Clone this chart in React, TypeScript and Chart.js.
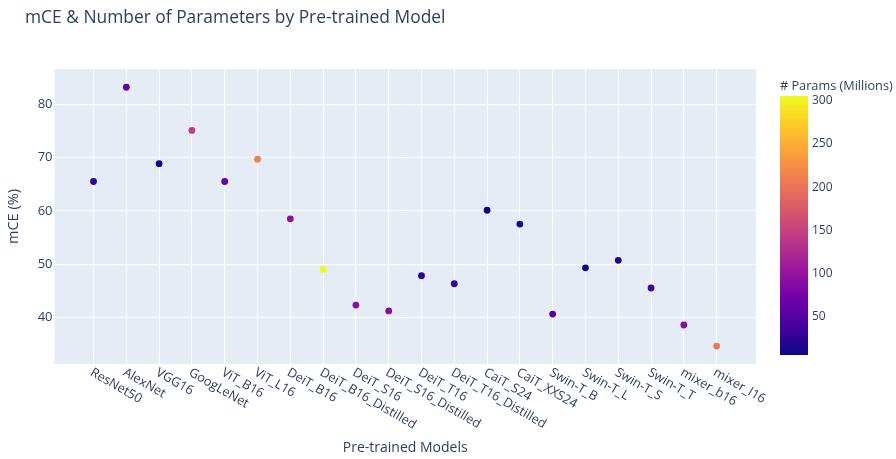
import React, { useEffect, useRef } from "react";
import { Chart, registerables } from "chart.js";

Chart.register(...registerables);

const models = [
  "ResNet50", "AlexNet", "VGG16", "GoogLeNet", "ViT_B16", "ViT_L16", "DeiT_B16",
  "DeiT_B16_Distilled", "DeiT_S16", "DeiT_S16_Distilled", "DeiT_T16", "DeiT_T16_Distilled",
  "CaiT_S24", "CaiT_XXS24", "Swin-T_B", "Swin-T_L", "Swin-T_S", "Swin-T_T", "mixer_b16", "mixer_l16",
];
const mce = [
  65.5, 83.2, 68.85, 75.1, 65.5, 69.7, 58.5,
  49.0, 42.3, 41.2, 47.8, 46.3,
  60.1, 57.5, 40.6, 49.3, 50.7, 45.5, 38.55, 34.6,
];
const paramsMillions = [
  25.6, 62, 7, 146, 66, 212, 93,
  305, 90, 91, 24, 26,
  6, 9, 50, 7, 14, 40, 90, 203,
];
const yTicks = [40, 50, 60, 70, 80];
const colorbarTicks = [50, 100, 150, 200, 250, 300];
const plasma = [
  "#0d0887", "#46039f", "#7201a8", "#9c179e", "#bd3786",
  "#d8576b", "#ed7953", "#fb9f3a", "#fdca26", "#f0f921",
];

const C_MIN = 5.7;
const C_MAX = 305.4;
const FONT = '"Open Sans", verdana, arial, sans-serif';
const TEXT = "#2a3f5f";

function hexToRgb(h: string) {
  return [parseInt(h.slice(1, 3), 16), parseInt(h.slice(3, 5), 16), parseInt(h.slice(5, 7), 16)];
}
function plasmaColor(v: number) {
  let t = (v - C_MIN) / (C_MAX - C_MIN);
  t = Math.max(0, Math.min(1, t));
  const pos = t * (plasma.length - 1);
  const i = Math.min(plasma.length - 2, Math.floor(pos));
  const f = pos - i;
  const a = hexToRgb(plasma[i]);
  const b = hexToRgb(plasma[i + 1]);
  const c = a.map((x, k) => Math.round(x + (b[k] - x) * f));
  return `rgb(${c[0]},${c[1]},${c[2]})`;
}

const decorPlugin = {
  id: "decor",
  beforeDraw(chart: any) {
    const { ctx, chartArea: a } = chart;
    ctx.save();
    ctx.fillStyle = "#e5ecf6";
    ctx.fillRect(a.left, a.top, a.right - a.left, a.bottom - a.top);
    ctx.restore();
  },
  afterDraw(chart: any) {
    const { ctx, chartArea: a } = chart;
    const xs = chart.scales.x;
    ctx.save();
    ctx.fillStyle = TEXT;
    // title
    ctx.font = `17.4px ${FONT}`;
    ctx.textAlign = "left";
    ctx.textBaseline = "middle";
    ctx.fillText("mCE & Number of Parameters by Pre-trained Model", 25, 18.5);
    // y axis title
    ctx.save();
    ctx.translate(13.5, (a.top + a.bottom) / 2);
    ctx.rotate(-Math.PI / 2);
    ctx.font = `14.5px ${FONT}`;
    ctx.textAlign = "center";
    ctx.textBaseline = "middle";
    ctx.fillText("mCE (%)", 0, 0);
    ctx.restore();
    // x tick labels rotated 30deg
    ctx.font = `12.8px ${FONT}`;
    models.forEach((m, i) => {
      const px = xs.getPixelForValue(i);
      ctx.save();
      ctx.translate(px + 1, a.bottom + 2);
      ctx.rotate(Math.PI / 6);
      ctx.textAlign = "left";
      ctx.textBaseline = "top";
      ctx.fillText(m, 0, 0);
      ctx.restore();
    });
    // x axis title
    ctx.font = `14px ${FONT}`;
    ctx.textAlign = "center";
    ctx.textBaseline = "middle";
    ctx.fillText("Pre-trained Models", (a.left + a.right) / 2, 448);
    // colorbar
    const bx = a.right + 24;
    const bw = 28;
    const top = 96;
    const bot = 355;
    const g = ctx.createLinearGradient(0, bot, 0, top);
    plasma.forEach((c, i) => g.addColorStop(i / (plasma.length - 1), c));
    ctx.fillStyle = g;
    ctx.fillRect(bx, top, bw, bot - top);
    ctx.fillStyle = TEXT;
    ctx.font = `12px ${FONT}`;
    ctx.textAlign = "left";
    ctx.textBaseline = "middle";
    colorbarTicks.forEach((v) => {
      const y = bot - ((v - C_MIN) / (C_MAX - C_MIN)) * (bot - top);
      ctx.fillText(String(v), bx + bw + 4, y);
    });
    ctx.font = `12.7px ${FONT}`;
    ctx.fillText("# Params (Millions)", bx, 86);
    ctx.restore();
  },
};

export default function App() {
  const ref = useRef<HTMLCanvasElement>(null);
  useEffect(() => {
    if (!ref.current) return;
    const chart = new Chart(ref.current, {
      type: "scatter",
      data: {
        datasets: [
          {
            data: models.map((_, i) => ({ x: i, y: mce[i] })),
            backgroundColor: paramsMillions.map(plasmaColor),
            borderWidth: 0,
            pointRadius: 3.4,
          },
        ],
      },
      options: {
        animation: false,
        responsive: false,
        layout: { padding: { left: 0, right: 140, top: 69, bottom: 0 } },
        plugins: { legend: { display: false }, tooltip: { enabled: false }, title: { display: false } },
        scales: {
          x: {
            type: "linear",
            min: -1.19,
            max: 20.2,
            afterBuildTicks: (s: any) => {
              s.ticks = models.map((_, i) => ({ value: i }));
            },
            afterFit: (s: any) => {
              s.height = 95;
            },
            ticks: { display: false },
            grid: { color: "#ffffff", lineWidth: 1, drawTicks: false },
            border: { display: false },
          },
          y: {
            min: 31.23,
            max: 86.63,
            afterBuildTicks: (s: any) => {
              s.ticks = yTicks.map((v) => ({ value: v }));
            },
            afterFit: (s: any) => {
              s.width = 54.5;
            },
            ticks: { color: TEXT, font: { family: FONT, size: 13 }, padding: 2 },
            grid: { color: "#ffffff", lineWidth: 1, drawTicks: false },
            border: { display: false },
          },
        },
      },
      plugins: [decorPlugin],
    });
    return () => chart.destroy();
  }, []);
  return (
    <div style={{ position: "fixed", left: 0, top: 0, width: 896, height: 459, background: "#fff" }}>
      <canvas ref={ref} width={896} height={459} />
    </div>
  );
}
